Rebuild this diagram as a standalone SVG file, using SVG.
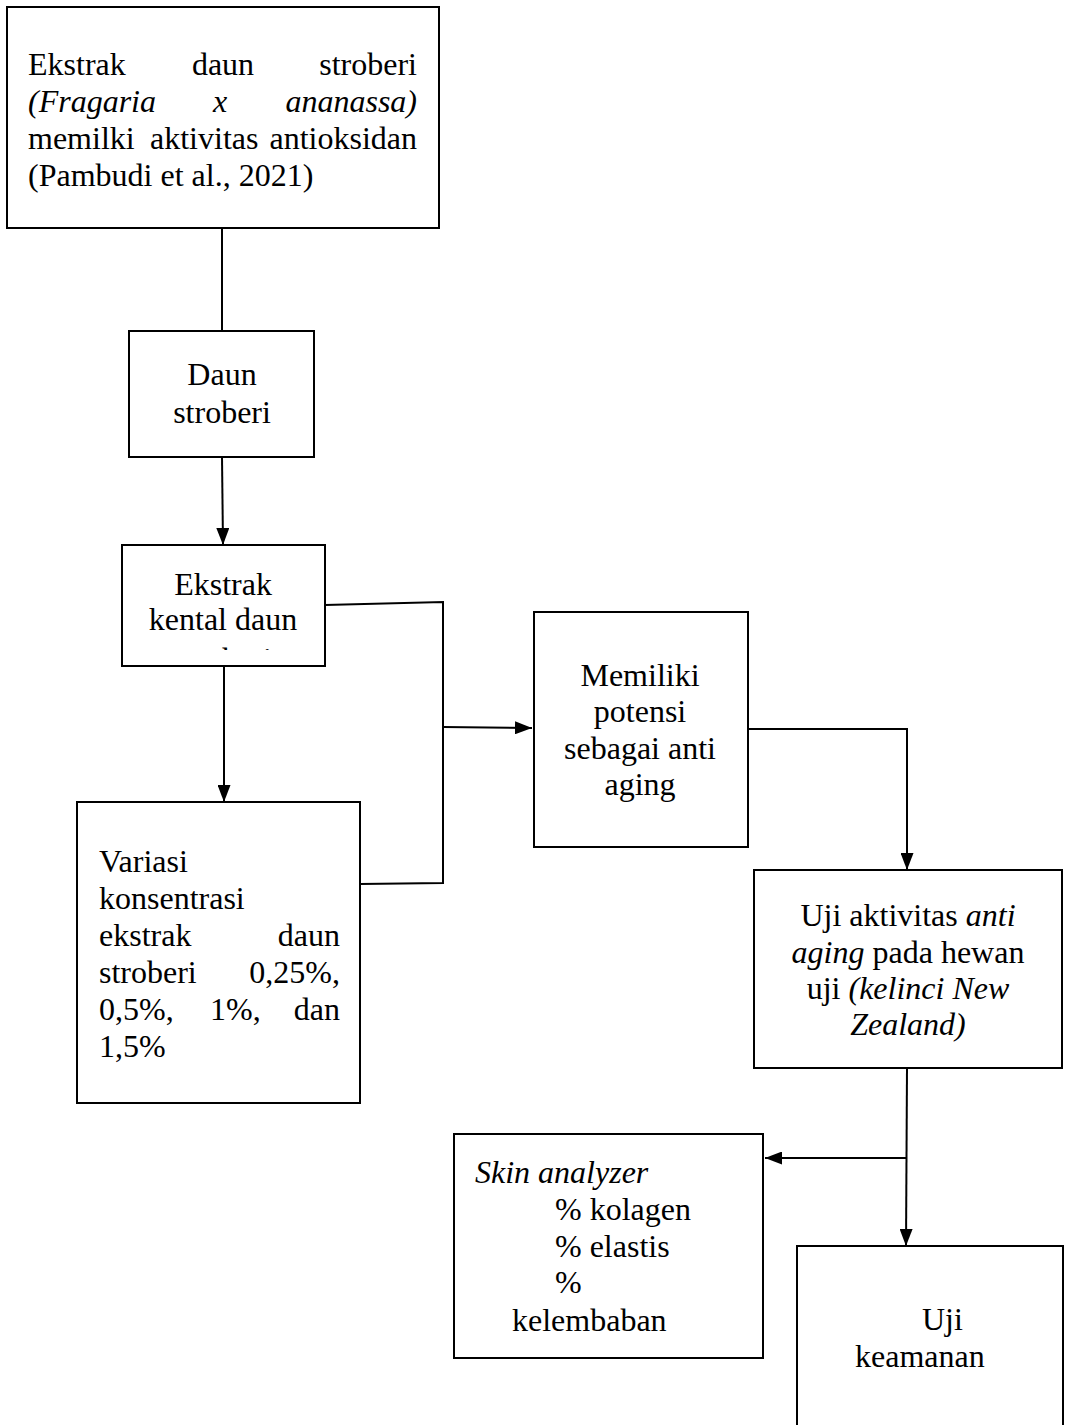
<svg xmlns="http://www.w3.org/2000/svg" width="1068" height="1425" viewBox="0 0 1068 1425">
<style>
.box{fill:#fff;stroke:#000;stroke-width:2}
.ln{fill:none;stroke:#000;stroke-width:2}
text{font-family:"Liberation Serif","Times New Roman",serif;font-size:32px;fill:#000}
.c{text-anchor:middle}
.e{text-anchor:end}
.i{font-style:italic}
</style>
<defs>
<marker id="ah" markerUnits="userSpaceOnUse" viewBox="0 0 17 13" refX="17" refY="6.5" markerWidth="17" markerHeight="13" orient="auto">
<path d="M0,0 L17,6.5 L0,13 z" fill="#000"/>
</marker>
<clipPath id="clipEk"><rect x="122" y="545" width="203" height="105"/></clipPath>
</defs>
<rect width="1068" height="1425" fill="#fff"/>
<g id="connectors">
<path class="ln" d="M222,228 L222,331"/>
<path class="ln" d="M222,457 L223,545" marker-end="url(#ah)"/>
<path class="ln" d="M224,666 L224,802" marker-end="url(#ah)"/>
<path class="ln" d="M325,605 L443,602 L443,883 L360,884"/>
<path class="ln" d="M443,727 L532,728" marker-end="url(#ah)"/>
<path class="ln" d="M748,729 L907,729 L907,870" marker-end="url(#ah)"/>
<path class="ln" d="M907,1068 L906,1246" marker-end="url(#ah)"/>
<path class="ln" d="M906,1158 L765,1158" marker-end="url(#ah)"/>
</g>
<g id="node-ekstrak-daun">
<rect class="box" x="7" y="7" width="432" height="221"/>
<text x="28" y="75">Ekstrak</text>
<text x="223" y="75" class="c">daun</text>
<text x="417" y="75" class="e">stroberi</text>
<text x="28" y="112" class="i">(Fragaria</text>
<text x="220" y="112" class="i c">x</text>
<text x="417" y="112" class="i e">ananassa)</text>
<text x="28" y="149">memilki</text>
<text x="150" y="149">aktivitas</text>
<text x="417" y="149" class="e">antioksidan</text>
<text x="28" y="186">(Pambudi et al., 2021)</text>
</g>
<g id="node-daun">
<rect class="box" x="129" y="331" width="185" height="126"/>
<text x="222" y="385" class="c">Daun</text>
<text x="222" y="423" class="c">stroberi</text>
</g>
<g id="node-ekstrak-kental">
<rect class="box" x="122" y="545" width="203" height="121"/>
<text x="223" y="595" class="c">Ekstrak</text>
<text x="223" y="630" class="c">kental daun</text>
<text x="223" y="670" class="c" clip-path="url(#clipEk)">stroberi</text>
</g>
<g id="node-variasi">
<rect class="box" x="77" y="802" width="283" height="301"/>
<text x="99" y="872">Variasi</text>
<text x="99" y="909">konsentrasi</text>
<text x="99" y="946">ekstrak</text>
<text x="340" y="946" class="e">daun</text>
<text x="99" y="983">stroberi</text>
<text x="340" y="983" class="e">0,25%,</text>
<text x="99" y="1020">0,5%,</text>
<text x="210" y="1020">1%,</text>
<text x="340" y="1020" class="e">dan</text>
<text x="99" y="1057">1,5%</text>
</g>
<g id="node-memiliki">
<rect class="box" x="534" y="612" width="214" height="235"/>
<text x="640" y="686" class="c">Memiliki</text>
<text x="640" y="722" class="c">potensi</text>
<text x="640" y="759" class="c">sebagai anti</text>
<text x="640" y="795" class="c">aging</text>
</g>
<g id="node-uji-aktivitas">
<rect class="box" x="754" y="870" width="308" height="198"/>
<text x="908" y="926" class="c">Uji aktivitas <tspan class="i">anti</tspan></text>
<text x="908" y="963" class="c"><tspan class="i">aging</tspan> pada hewan</text>
<text x="908" y="999" class="c">uji <tspan class="i">(kelinci New</tspan></text>
<text x="908" y="1035" class="c i">Zealand)</text>
</g>
<g id="node-skin">
<rect class="box" x="454" y="1134" width="309" height="224"/>
<text x="475" y="1183" class="i">Skin analyzer</text>
<text x="555" y="1220">% kolagen</text>
<text x="555" y="1257">% elastis</text>
<text x="555" y="1293">%</text>
<text x="512" y="1331">kelembaban</text>
</g>
<g id="node-keamanan">
<rect class="box" x="797" y="1246" width="266" height="200"/>
<text x="922" y="1330">Uji</text>
<text x="855" y="1367">keamanan</text>
</g>
</svg>
